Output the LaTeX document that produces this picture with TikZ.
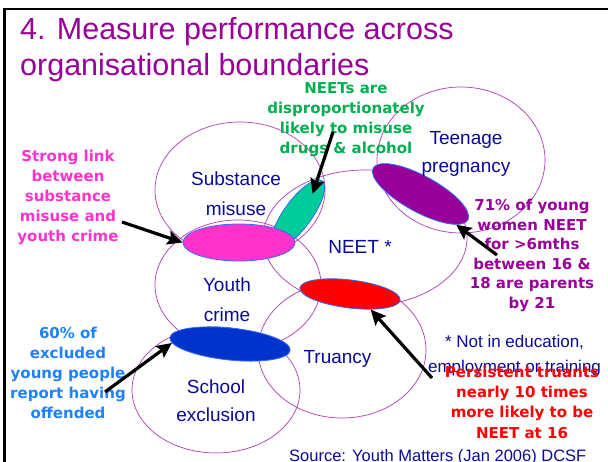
\documentclass[tikz,border=0pt]{standalone}
\usepackage{fontspec}
\setmainfont{Liberation Sans}
\newfontfamily\calloutfont{DejaVu Sans}
\usetikzlibrary{shapes.geometric,arrows.meta,calc}
\definecolor{titlepurple}{RGB}{153,0,153}
\definecolor{navy}{RGB}{10,10,153}
\definecolor{ringline}{RGB}{175,60,180}
\definecolor{blobline}{RGB}{51,102,255}
\definecolor{greentext}{RGB}{0,176,80}
\definecolor{pinkfill}{RGB}{255,51,204}
\definecolor{greenfill}{RGB}{0,204,153}
\definecolor{redfill}{RGB}{255,0,0}
\definecolor{bluefill}{RGB}{0,51,204}
\definecolor{bluetext}{RGB}{30,130,255}
\begin{document}
\begin{tikzpicture}[x=1pt, y=-1pt,
	ring/.style = {draw=ringline, line width=0.7pt, ellipse, inner sep=0pt},
	blob/.style = {draw=blobline, line width=0.8pt, ellipse, inner sep=0pt},
	lbl/.style = {text=navy, font=\fontsize{19}{30}\selectfont, align=center, inner sep=0pt},
	callout/.style = {font=\calloutfont\bfseries\fontsize{15}{20}\selectfont, align=center, inner sep=0pt, anchor=north},
	arr/.style = {line width=3.2pt, -{Stealth[length=15pt, width=14pt, inset=2.5pt]}}]
	\useasboundingbox[fill=white] (0,0) rectangle (608,462);
	% the six areas
	\node[ring, minimum width=170pt, minimum height=136pt] (substance) at (240,190) {};
	\node[ring, minimum width=166pt, minimum height=130pt] (youth) at (238,285) {};
	\node[ring, minimum width=204pt, minimum height=136pt] (neet) at (365,238) {};
	\node[ring, minimum width=168pt, minimum height=146pt] (teen) at (461,160) {};
	\node[ring, minimum width=168pt, minimum height=136pt] (truancy) at (342,350) {};
	\node[ring, minimum width=168pt, minimum height=126pt] (school) at (216,390) {};
	% overlaps
	\node[blob, fill=greenfill, minimum width=82pt, minimum height=28pt, rotate=54] (greenblob) at (298,214) {};
	\node[blob, fill=pinkfill, minimum width=112pt, minimum height=37pt] (pinkblob) at (239,242.5) {};
	\node[blob, fill=titlepurple, minimum width=108pt, minimum height=36pt, rotate=-28.7] (purpleblob) at (420.5,194) {};
	\node[blob, fill=redfill, minimum width=101pt, minimum height=28pt, rotate=-7] (redblob) at (350,294) {};
	\node[blob, fill=bluefill, minimum width=121pt, minimum height=32pt, rotate=-6] (blueblob) at (230,344) {};
	% title
	\node[text=titlepurple, font=\fontsize{30.5}{36}\selectfont, align=left, inner sep=0pt, anchor=north west] (title) at (20,17) {4. Measure performance across\\organisational boundaries};
	% area labels
	\node[lbl, anchor=north] (substancelbl) at (236,172) {Substance\\misuse};
	\node[lbl, anchor=north, font=\fontsize{19}{28}\selectfont] (teenlbl) at (466,131.5) {Teenage\\pregnancy};
	\node[lbl, anchor=base] (neetlbl) at (360,254) {NEET *};
	\node[lbl, anchor=north] (youthlbl) at (227,278) {Youth\\crime};
	\node[lbl, anchor=base] (truancylbl) at (337.5,363) {Truancy};
	\node[lbl, anchor=north, font=\fontsize{19}{28}\selectfont] (schoollbl) at (216,380) {School\\exclusion};
	\node[lbl, anchor=north, font=\fontsize{17}{25}\selectfont] (neetnote) at (514.5,334.6) {* Not in education,\\employment or training};
	\node[lbl, anchor=base west, font=\fontsize{16.5}{20}\selectfont] (source) at (289,461) {Source: Youth Matters (Jan 2006) DCSF};
	% callouts
	\node[callout, text=greentext] (greentxt) at (346,82) {NEETs are\\disproportionately\\likely to misuse\\drugs \& alcohol};
	\node[callout, text=pinkfill] (pinktxt) at (68,150) {Strong link\\between\\substance\\misuse and\\youth crime};
	\node[callout, text=titlepurple, font=\calloutfont\bfseries\fontsize{15}{19.6}\selectfont] (purpletxt) at (532,199) {71\% of young\\women NEET\\for >6mths\\between 16 \&\\18 are parents\\by 21};
	\node[callout, text=bluetext, font=\calloutfont\bfseries\fontsize{15}{20.2}\selectfont] (bluetxt) at (68,326.6) {60\% of\\excluded\\young people\\report having\\offended};
	\node[callout, text=redfill, font=\calloutfont\bfseries\fontsize{15}{20.3}\selectfont] (redtxt) at (522,365.6) {Persistent truants\\nearly 10 times\\more likely to be\\NEET at 16};
	% arrows
	\coordinate (greentail) at (333,132);
	\coordinate (pinktail) at (122,222);
	\coordinate (purpletail) at (497,255);
	\coordinate (redtail) at (432,378);
	\coordinate (bluetail) at (105,392);
	\draw[arr] (greentail) -- ($(greenblob.center)!0.6!(greenblob.east)$);
	\draw[arr] (pinktail) -- (pinkblob.west);
	\draw[arr] (purpletail) -- (purpleblob.-12);
	\draw[arr] (redtail) -- (redblob.-30);
	\draw[arr] (bluetail) -- (blueblob.185);
	% slide frame
	\draw[line width=2.5pt] (4.7,462) -- (4.7,9) -- (608,9);
\end{tikzpicture}
\end{document}
